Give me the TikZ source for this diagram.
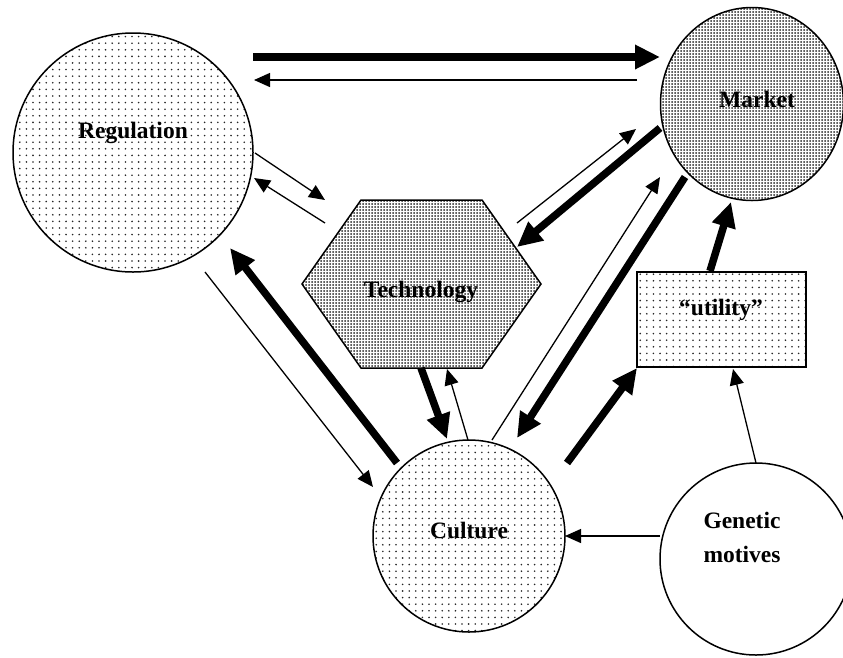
\documentclass[tikz,border=0pt]{standalone}
\usepackage{fontspec}
\setmainfont{Liberation Serif}
\usetikzlibrary{shapes.geometric,arrows.meta,patterns.meta}
\begin{document}
\begin{tikzpicture}[x=1pt,y=-1pt,
  lbl/.style={inner sep=0pt, font=\bfseries\fontsize{23.5}{34}\selectfont, anchor=base},
  shapeline/.style={draw=black, line width=1.5pt, inner sep=0pt, outer sep=0pt},
  sparse/.style={pattern={Dots[distance=6.6pt, radius=0.9pt]}, pattern color=black!85},
  dense/.style={pattern={Dots[distance=3pt, radius=1pt]}, pattern color=black!85},
  thinarr/.style={line width=1.3pt, -{Triangle[length=16pt,width=14pt]}},
  thickarr/.style={line width=7.5pt, -{Triangle[length=25pt,width=23pt]}}]
\useasboundingbox (0,0) rectangle (843,657);

% shapes
\node[shapeline, sparse, ellipse, minimum width=240pt, minimum height=239pt] (reg) at (133,152.5) {};
\node[shapeline, dense, ellipse, minimum width=183pt, minimum height=193pt] (mkt) at (752,104) {};
\path[shapeline, dense] (302,284) -- (361,200) -- (482,200) -- (541,284) -- (482,368) -- (361,368) -- cycle;
\node[shapeline, sparse, rectangle, minimum width=169pt, minimum height=95pt] (util) at (721.5,319.5) {};
\node[shapeline, sparse, circle, minimum size=192pt] (cul) at (469,536) {};
\node[shapeline, fill=white, circle, minimum size=192pt] (gen) at (756,559) {};

% labels
\node[lbl] (regt) at (133,138) {Regulation};
\node[lbl] (mktt) at (757,107) {Market};
\node[lbl] (tech) at (421,297) {Technology};
\node[lbl] (utilt) at (721,315) {“utility”};
\node[lbl] (cult) at (469,538) {Culture};
\node[lbl, anchor=center, align=center] (gent) at (742,537) {Genetic\\motives};

% arrow end points
\coordinate (rm1) at (253,57);   \coordinate (rm2) at (660,57);
\coordinate (mr1) at (637,80);   \coordinate (mr2) at (254,80);
\coordinate (rt1) at (255,153);  \coordinate (rt2) at (325,200);
\coordinate (tr1) at (325,223);  \coordinate (tr2) at (254,178);
\coordinate (tm1) at (517,223);  \coordinate (tm2) at (636,129);
\coordinate (mt1) at (660,128);  \coordinate (mt2) at (517,247);
\coordinate (cm1) at (492,440);  \coordinate (cm2) at (660,177);
\coordinate (mc1) at (685,177);  \coordinate (mc2) at (517,438);
\coordinate (um1) at (710,271);  \coordinate (um2) at (731,202);
\coordinate (cu1) at (567,463);  \coordinate (cu2) at (637,368);
\coordinate (gu1) at (756,463);  \coordinate (gu2) at (733,369);
\coordinate (gc1) at (660,536);  \coordinate (gc2) at (565,536);
\coordinate (tc1) at (421,368);  \coordinate (tc2) at (447,439);
\coordinate (ct1) at (468,440);  \coordinate (ct2) at (447,369);
\coordinate (cr1) at (397,463);  \coordinate (cr2) at (230,248);
\coordinate (rc1) at (205,272);  \coordinate (rc2) at (373,487);

% connectors
\draw[thickarr] (rm1) -- (rm2);
\draw[thinarr] (mr1) -- (mr2);
\draw[thinarr] (rt1) -- (rt2);
\draw[thinarr] (tr1) -- (tr2);
\draw[thinarr] (tm1) -- (tm2);
\draw[thickarr] (mt1) -- (mt2);
\draw[thinarr] (cm1) -- (cm2);
\draw[thickarr] (mc1) -- (mc2);
\draw[thickarr] (um1) -- (um2);
\draw[thickarr] (cu1) -- (cu2);
\draw[thinarr] (gu1) -- (gu2);
\draw[thinarr] (gc1) -- (gc2);
\draw[thickarr] (tc1) -- (tc2);
\draw[thinarr] (ct1) -- (ct2);
\draw[thickarr] (cr1) -- (cr2);
\draw[thinarr] (rc1) -- (rc2);
\end{tikzpicture}
\end{document}
